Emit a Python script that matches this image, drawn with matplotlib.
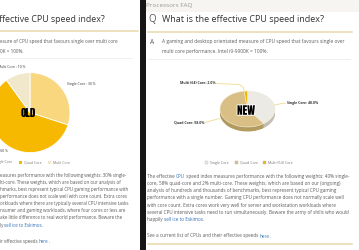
import numpy as np
import matplotlib.pyplot as plt
import matplotlib.patheffects as pe
from matplotlib.patches import Rectangle

W, H = 359, 250

# old weighting (left screenshot)
old_labels = ['Single Core', 'Quad Core', 'Multi Core']
old_values = [30, 60, 10]
old_colors = ['#F9D77E', '#F6B900', '#F1E7CB']

# new weighting (right screenshot)
new_labels = ['Single Core', 'Quad Core', 'Multi (64) Core']
new_values = [40.0, 58.0, 2.0]
new_colors = ['#ECEAE4', '#D9BF86', '#F2B705']
new_side_colors = ['#C4BFB4', '#B39A5E', '#CF9A00']

TEXT = '#5a5a5a'
DARK = '#333333'
LINK = '#2f6fb5'
TAN = '#E8D8AC'
# tall narrow poster face for the OLD / NEW stamps, first one found wins
STAMP = ['Anton', 'Oswald', 'Bebas Neue', 'Fjalla One', 'Liberation Sans Narrow', 'DejaVu Sans']

plt.rcParams['font.family'] = ['Open Sans', 'DejaVu Sans']


def px_box(x0, y0, x1, y1):
    return [x0 / W, 1 - y1 / H, (x1 - x0) / W, (y1 - y0) / H]


def text_line(ax, x, y, parts, size, **kw):
    # parts: list of (string, is_link); segments chained one after another
    t = None
    for s, link in parts:
        color = LINK if link else kw.get('color', TEXT)
        opts = {k: v for k, v in kw.items() if k != 'color'}
        if t is None:
            t = ax.text(x, y, s, fontsize=size, color=color, va='center', ha='left', **opts)
        else:
            t = ax.annotate(s, xy=(1, 0), xycoords=t, va='bottom', ha='left',
                            fontsize=size, color=color, **opts)
    return t


fig = plt.figure(figsize=(W / 100, H / 100), dpi=100)
bg = fig.add_axes([0, 0, 1, 1])
bg.set_xlim(0, W)
bg.set_ylim(H, 0)
bg.axis('off')

# ---- frame pieces
bg.add_patch(Rectangle((146, 0), W - 146, 12, color='#F6F5F2', lw=0))
bg.axvspan(140, 145.5, color='#161616', lw=0)
bg.plot([0, 138], [31, 31], color=TAN, lw=1.1)
bg.plot([148, 352], [32, 32], color=TAN, lw=1.1)
bg.plot([0, 132], [57.5, 57.5], color='#EEEEEE', lw=0.6)
bg.plot([148, 350], [59, 59], color='#EEEEEE', lw=0.6)
bg.plot([148, 352], [244, 244], color=TAN, lw=1.1)

# ---- left page (old)
bg.text(-1, 19.5, 'ffective CPU speed index?', fontsize=6.4, color=DARK, va='center')
text_line(bg, 0, 41.7, [('esure of CPU speed that favours single over multi core', False)], 3.35)
text_line(bg, 0, 51.7, [('0K = 100%.', False)], 3.35)

ax_old = fig.add_axes(px_box(-10, 72.6, 70, 152.6))
ax_old.pie(old_values, colors=old_colors, startangle=90, counterclock=False,
           wedgeprops=dict(linewidth=0.6, edgecolor='white'))
ax_old.set_xlim(-1, 1)
ax_old.set_ylim(-1, 1)
ax_old.axis('off')
ax_old.text(-0.04, 0.0, 'OLD', fontsize=8, color='black', family=STAMP,
            ha='center', va='center')

LBL = 2.5
bg.text(25, 66.7, f'{old_labels[2]} : {old_values[2]} %', fontsize=LBL, color=DARK, ha='right', va='center')
bg.text(67, 84.5, f'{old_labels[0]} : {old_values[0]} %', fontsize=LBL, color=DARK, ha='left', va='center')
bg.text(8, 151, f'{old_labels[1]} : {old_values[1]} %', fontsize=LBL, color=DARK, ha='right', va='center')

# left legend
for xs, lab, col in zip([-10.5, 19, 47.7], old_labels, old_colors):
    bg.add_patch(Rectangle((xs, 160.8), 3.4, 3.4, color=col, lw=0))
    bg.text(xs + 5, 162.5, lab, fontsize=2.5, color='#777777', va='center')

left_para = [
    [('easures performance with the following weights: 30% single-', False)],
    [('lti-core. These weights, which are based on our analysis of', False)],
    [('hmarks, best represent typical CPU gaming performance with', False)],
    [('performance does not scale well with core count. Extra cores', False)],
    [('orkloads where there are typically several CPU intensive tasks', False)],
    [('nsumer and gaming workloads, where four cores or less are', False)],
    [('ake little difference to real world performance. Beware the', False)],
    [('ly ', False), ('sell ice to Eskimos.', True)],
]
for i, parts in enumerate(left_para):
    text_line(bg, 0, 175 + i * 7.15, parts, 3.25)
text_line(bg, 0, 241.5, [('ir effective speeds ', False), ('here', True), ('.', False)], 3.25)

# ---- right page (new)
bg.text(146.5, 6, 'Processors FAQ', fontsize=4.6, color='#999999', va='center')
bg.text(148, 20, 'Q', fontsize=7, color=TEXT, va='center')
bg.text(161.7, 20, 'What is the effective CPU speed index?', fontsize=6.5, color=DARK, va='center')
bg.text(149.5, 42.5, 'A', fontsize=4.8, color=TEXT, va='center')
text_line(bg, 161.7, 41.7, [('A gaming and desktop orientated measure of CPU speed that favours single over', False)], 3.55)
text_line(bg, 161.7, 51.7, [('multi core performance. Intel i9-9900K = 100%.', False)], 3.55)

# 3d-looking pie: stacked darker copies underneath give the rim
ry = 18.0
ax_new = fig.add_axes(px_box(220, 109 - 1.05 * ry, 275, 109 + 1.35 * ry))
depth = 4.5 / ry
for off in np.linspace(depth, 0.02, 8):
    ax_new.pie(new_values, colors=new_side_colors, startangle=90, counterclock=False,
               center=(0, -off), wedgeprops=dict(linewidth=0))
ax_new.pie(new_values, colors=new_colors, startangle=90, counterclock=False,
           wedgeprops=dict(linewidth=0.4, edgecolor='#F7F1E0'))
ax_new.set_xlim(-1, 1)
ax_new.set_ylim(-1.35, 1.05)
ax_new.set_aspect('auto')
ax_new.axis('off')
ax_new.text(-0.055, -0.1, 'NEW', fontsize=8, color='black', family=STAMP,
            ha='center', va='center',
            path_effects=[pe.withStroke(linewidth=1.2, foreground='white')])

LEAD = '#F1D98C'
bg.plot([216, 239, 243, 244.5], [83.5, 84.5, 87, 91], color=LEAD, lw=0.6)
bg.plot([273.5, 285.5], [105, 103], color=LEAD, lw=0.6)
bg.plot([205, 219.5], [122.5, 118.5], color=LEAD, lw=0.6)
NL = 2.5
bg.text(215, 83, f'{new_labels[2]}: {new_values[2]:.1f}%', fontsize=NL, fontweight='bold', color=DARK, ha='right', va='center')
bg.text(287, 103, f'{new_labels[0]}: {new_values[0]:.1f}%', fontsize=NL, fontweight='bold', color=DARK, ha='left', va='center')
bg.text(204, 122.7, f'{new_labels[1]}: {new_values[1]:.1f}%', fontsize=NL, fontweight='bold', color=DARK, ha='right', va='center')

# right legend
for xs, lab, col in zip([205, 235, 263], new_labels, new_colors):
    bg.add_patch(Rectangle((xs, 161), 3.4, 3.4, facecolor=col, edgecolor='#BBBBBB', lw=0.3))
    bg.text(xs + 4.6, 162.7, lab, fontsize=2.6, color='#777777', va='center')

right_para = [
    [('The effective ', False), ('CPU', True), (' speed index measures performance with the following weights: 40% single-', False)],
    [('core, 58% quad-core and 2% multi-core. These weights, which are based on our (ongoing)', False)],
    [('analysis of hundreds and thousands of benchmarks, best represent typical CPU gaming', False)],
    [('performance with a single number. Gaming CPU performance does not normally scale well', False)],
    [('with core count. Extra cores work very well for server and workstation workloads where', False)],
    [('several CPU intensive tasks need to run simultaneously. Beware the army of shills who would', False)],
    [('happily ', False), ('sell ice to Eskimos.', True)],
]
for i, parts in enumerate(right_para):
    text_line(bg, 147, 176.7 + i * 7.1, parts, 3.3)
text_line(bg, 147, 236, [('See a current list of CPUs and their effective speeds ', False), ('here', True), ('.', False)], 3.3)

fig.savefig('out.png', dpi=100)
